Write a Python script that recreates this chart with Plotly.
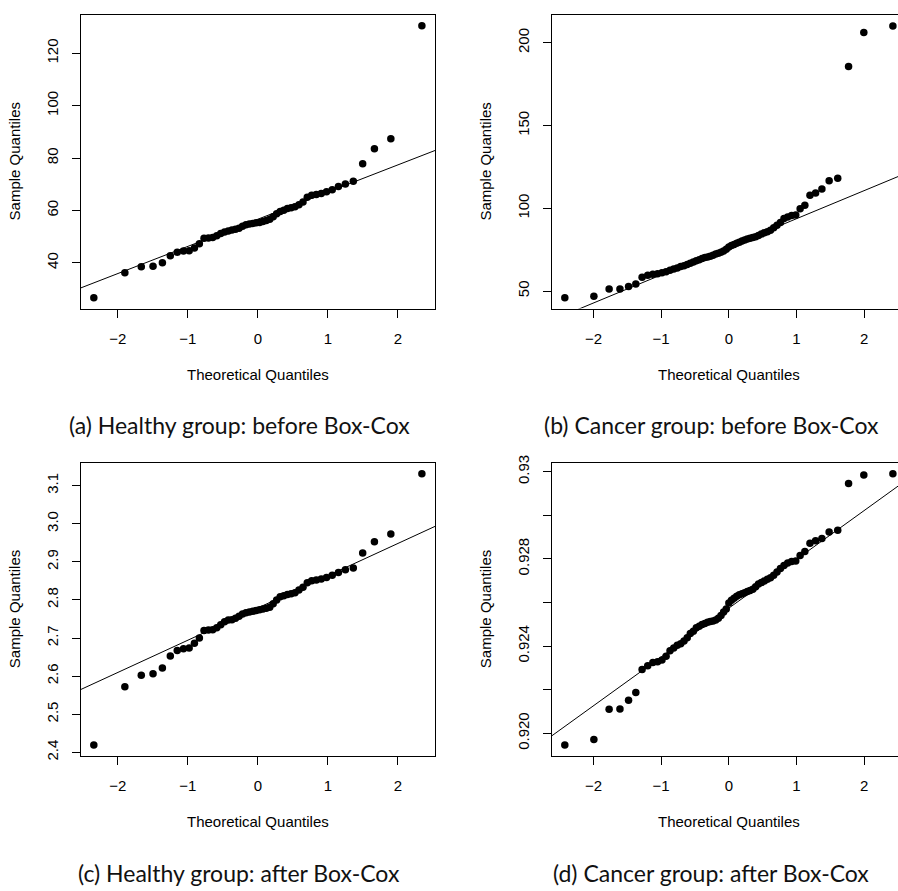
import plotly.graph_objects as go
from statistics import NormalDist

# ---------------- data (sample quantiles, sorted) ----------------
healthy_before = [26.7, 36.2, 38.5, 38.7, 40.0, 42.7, 44.0, 44.5, 44.6, 45.7,
                  47.3, 49.4, 49.5, 49.7, 50.3, 51.2, 51.8, 52.2, 52.5, 52.8,
                  53.2, 54.0, 54.5, 54.8, 55.0, 55.3, 55.4, 55.8, 56.2, 56.6,
                  57.6, 58.7, 59.6, 60.1, 60.7, 61.0, 61.4, 62.2, 63.2, 65.0,
                  65.8, 66.1, 66.5, 67.1, 67.9, 69.1, 70.1, 71.1, 77.8, 83.6,
                  87.4, 130.5]

cancer_before = [46.0, 46.8, 51.2, 51.3, 52.8, 54.2, 58.3, 59.5, 60.2, 60.4,
                 61.0, 61.7, 62.5, 63.3, 64.0, 64.8, 65.3, 66.0, 66.8, 67.6,
                 68.3, 68.9, 69.6, 70.2, 70.6, 71.0, 71.7, 72.4, 72.9, 73.5,
                 74.2, 75.3, 76.6, 77.5, 78.2, 78.9, 79.5, 80.2, 80.8, 81.5,
                 81.9, 82.4, 82.8, 83.5, 84.4, 85.2, 85.8, 86.8, 88.2, 89.8,
                 91.4, 93.8, 94.8, 95.6, 96.0, 99.8, 101.9, 107.9, 109.3, 111.7,
                 116.6, 118.2, 185.6, 206.2, 210.1]

healthy_after = [2.419, 2.572, 2.602, 2.606, 2.621, 2.653, 2.667, 2.672, 2.674, 2.686,
                 2.700, 2.720, 2.721, 2.722, 2.727, 2.735, 2.743, 2.747, 2.748, 2.752,
                 2.757, 2.763, 2.766, 2.768, 2.770, 2.772, 2.774, 2.776, 2.778, 2.781,
                 2.790, 2.800, 2.808, 2.811, 2.814, 2.816, 2.819, 2.826, 2.833, 2.845,
                 2.850, 2.852, 2.855, 2.859, 2.865, 2.872, 2.879, 2.884, 2.923, 2.953,
                 2.973, 3.131]

cancer_after = [0.91946, 0.91971, 0.92110, 0.92111, 0.92152, 0.92187, 0.92292, 0.92310, 0.92325, 0.92328,
                0.92336, 0.92353, 0.92378, 0.92391, 0.92404, 0.92411, 0.92423, 0.92438, 0.92458, 0.92468,
                0.92484, 0.92491, 0.92499, 0.92503, 0.92509, 0.92513, 0.92515, 0.92520, 0.92528, 0.92540,
                0.92556, 0.92570, 0.92598, 0.92610, 0.92619, 0.92628, 0.92635, 0.92640, 0.92645, 0.92650,
                0.92655, 0.92661, 0.92672, 0.92685, 0.92692, 0.92699, 0.92706, 0.92713, 0.92725, 0.92740,
                0.92756, 0.92770, 0.92781, 0.92788, 0.92790, 0.92815, 0.92834, 0.92872, 0.92883, 0.92893,
                0.92923, 0.92931, 0.93146, 0.93184, 0.93190]

x_ticks = [-2, -1, 0, 1, 2]
x_ticktext = ["\u22122", "\u22121", "0", "1", "2"]

yticks_a = [40, 60, 80, 100, 120]
yticktext_a = ["40", "60", "80", "100", "120"]
yticks_b = [50, 100, 150, 200]
yticktext_b = ["50", "100", "150", "200"]
yticks_c = [2.4, 2.5, 2.6, 2.7, 2.8, 2.9, 3.0, 3.1]
yticktext_c = ["2.4", "2.5", "2.6", "2.7", "2.8", "2.9", "3.0", "3.1"]
yticks_d = [0.920, 0.922, 0.924, 0.926, 0.928, 0.930, 0.932]
yticktext_d = ["0.920", "", "0.924", "", "0.928", "", "0.93"]

captions = ["(a) Healthy group: before Box-Cox",
            "(b) Cancer group: before Box-Cox",
            "(c) Healthy group: after Box-Cox",
            "(d) Cancer group: after Box-Cox"]

x_title = "Theoretical Quantiles"
y_title = "Sample Quantiles"

# ---------------- helpers ----------------
W, H = 898, 891
nd = NormalDist()
AXIS_FONT = dict(family="Liberation Sans, Arial, Helvetica, sans-serif", size=15, color="black")
CAP_FONT = dict(family="Lato, DejaVu Sans, sans-serif", size=23, color="#111111")


def ppoints(n):
    a = 3 / 8 if n <= 10 else 0.5
    return [(i + 1 - a) / (n + 1 - 2 * a) for i in range(n)]


def quantile7(v, p):
    s = sorted(v)
    n = len(s)
    h = (n - 1) * p
    lo = int(h)
    hi = min(lo + 1, n - 1)
    return s[lo] + (h - lo) * (s[hi] - s[lo])


def r_range(v):
    lo, hi = min(v), max(v)
    d = (hi - lo) * 0.04
    return lo - d, hi + d


# panel boxes in pixels: left, right(full), top, bottom
panels = [
    dict(y=healthy_before, box=(80.7, 435.0, 7.0, 305.0), yt=yticks_a, ytt=yticktext_a, cap_x=239, cap_y=423),
    dict(y=cancer_before, box=(551.7, 906.0, 7.3, 305.0), yt=yticks_b, ytt=yticktext_b, cap_x=711, cap_y=423),
    dict(y=healthy_after, box=(80.7, 435.0, 461.7, 759.0), yt=yticks_c, ytt=yticktext_c, cap_x=239, cap_y=878),
    dict(y=cancer_after, box=(551.7, 906.0, 461.7, 759.0), yt=yticks_d, ytt=yticktext_d, cap_x=711, cap_y=878),
]

fig = go.Figure()
annotations = []
layout_axes = {}

for k, p in enumerate(panels, start=1):
    ys = sorted(p["y"])
    n = len(ys)
    xs = [nd.inv_cdf(q) for q in ppoints(n)]
    xlo, xhi = r_range(xs)
    ylo, yhi = r_range(ys)
    left, right, top, bottom = p["box"]
    vis_right = min(right, W)
    xhi_vis = xlo + (xhi - xlo) * (vis_right - left) / (right - left)
    clipped = right > W

    xa = "x" if k == 1 else f"x{k}"
    ya = "y" if k == 1 else f"y{k}"

    # points
    fig.add_trace(go.Scatter(x=xs, y=ys, mode="markers", xaxis=xa, yaxis=ya,
                             marker=dict(color="black", size=7.5, line=dict(width=0)),
                             showlegend=False, cliponaxis=True))
    # qqline through the quartiles
    q1, q3 = quantile7(ys, 0.25), quantile7(ys, 0.75)
    z1, z3 = nd.inv_cdf(0.25), nd.inv_cdf(0.75)
    slope = (q3 - q1) / (z3 - z1)
    inter = q1 - slope * z1
    lx = [xlo, xhi]
    fig.add_trace(go.Scatter(x=lx, y=[inter + slope * v for v in lx], mode="lines",
                             xaxis=xa, yaxis=ya, line=dict(color="black", width=1),
                             showlegend=False, hoverinfo="skip"))

    xname = "xaxis" if k == 1 else f"xaxis{k}"
    yname = "yaxis" if k == 1 else f"yaxis{k}"
    layout_axes[xname] = dict(
        domain=[left / W, vis_right / W], range=[xlo, xhi_vis], anchor=ya,
        tickvals=x_ticks, ticktext=x_ticktext, ticks="outside", ticklen=8, tickwidth=1,
        tickcolor="black", showline=True, linecolor="black", linewidth=1, mirror=True,
        showgrid=False, zeroline=False, tickfont=AXIS_FONT, ticklabelstandoff=8,
    )
    layout_axes[yname] = dict(
        domain=[1 - bottom / H, 1 - top / H], range=[ylo, yhi], anchor=xa,
        tickvals=p["yt"], ticktext=p["ytt"], tickangle=-90, ticks="outside", ticklen=8,
        tickwidth=1, tickcolor="black", showline=True, linecolor="black", linewidth=1,
        mirror=not clipped, showgrid=False, zeroline=False, tickfont=AXIS_FONT,
        ticklabelstandoff=8,
    )

    # axis titles
    annotations.append(dict(text=x_title, xref="paper", yref="paper",
                            x=(left + right) / 2 / W, y=1 - (bottom + 67) / H,
                            xanchor="center", yanchor="middle", showarrow=False, font=AXIS_FONT))
    annotations.append(dict(text=y_title, xref="paper", yref="paper",
                            x=(left - 66) / W, y=1 - (top + bottom) / 2 / H, textangle=-90,
                            xanchor="center", yanchor="middle", showarrow=False, font=AXIS_FONT))
    # caption
    annotations.append(dict(text=captions[k - 1], xref="paper", yref="paper",
                            x=p["cap_x"] / W, y=1 - p["cap_y"] / H,
                            xanchor="center", yanchor="middle", showarrow=False, font=CAP_FONT))

fig.update_layout(
    width=W, height=H, margin=dict(l=0, r=0, t=0, b=0),
    paper_bgcolor="white", plot_bgcolor="white",
    annotations=annotations, showlegend=False, **layout_axes,
)

fig.write_html(
    "out.html",
    config={"displayModeBar": False},
    post_script="document.body.style.margin='0px';document.body.style.padding='0px';"
                "document.body.style.overflow='hidden';",
)
